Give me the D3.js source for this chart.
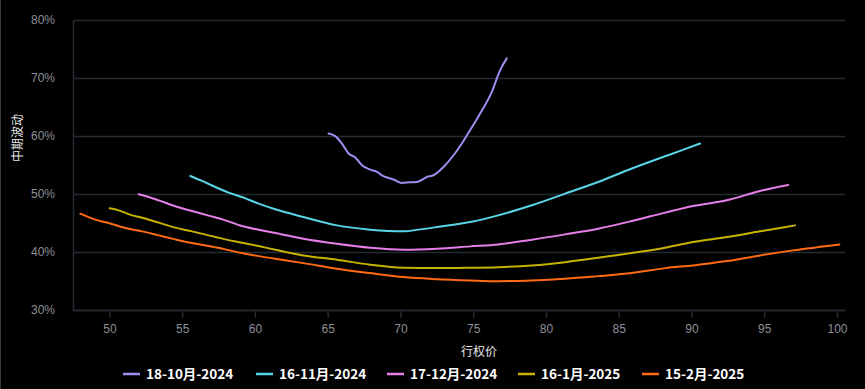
<!DOCTYPE html>
<head>
    <meta charset="utf-8">
    <title>中期波动 smile</title>
    <style>
        html, body { margin: 0; padding: 0; background: #000; }
        svg { display: block; font-family: "Noto Sans CJK SC", "Noto Sans", sans-serif; }
    </style>
</head>
<body>
<svg width="865" height="389"></svg>
<script src="https://d3js.org/d3.v7.min.js"></script>
<script>

    // expiries (legend order)
    var expiries = ["18-10月-2024", "16-11月-2024", "17-12月-2024", "16-1月-2025", "15-2月-2025"];
    var colors   = ["#9d8ff0", "#58d6e8", "#e67fea", "#c8b200", "#ff6a12"];

    // strike / vol(%) pairs
    var oct24Strike = [65.06, 65.52, 65.98, 66.44, 66.90, 67.36, 67.93, 68.39, 68.73, 69.18, 69.53, 70.10, 70.67, 71.13, 71.82, 72.27, 72.96, 73.65, 74.22, 74.57, 75.48, 76.28, 76.85, 77.31];
    var oct24Vol    = [60.43, 59.97, 58.70, 56.98, 56.29, 54.96, 54.21, 53.80, 53.23, 52.76, 52.49, 51.90, 52.02, 52.07, 52.94, 53.23, 54.66, 56.68, 58.70, 60.14, 63.89, 67.62, 71.36, 73.38];

    var nov24Strike = [55.56, 56.37, 57.28, 58.19, 59.11, 60.25, 61.40, 63.34, 65.64, 67.93, 70.21, 71.36, 72.51, 74.79, 76.72, 79.03, 81.32, 83.59, 85.90, 88.19, 89.22, 90.59];
    var nov24Vol    = [53.11, 52.25, 51.21, 50.24, 49.48, 48.34, 47.36, 46.03, 44.59, 43.85, 43.56, 43.90, 44.30, 45.16, 46.32, 48.05, 50.07, 52.07, 54.39, 56.51, 57.43, 58.70];

    var dec24Strike = [52.01, 52.70, 53.39, 54.53, 55.68, 56.82, 57.97, 59.11, 60.25, 61.40, 63.34, 65.64, 67.93, 70.21, 72.51, 74.79, 76.72, 79.03, 81.32, 83.59, 85.90, 88.19, 90.11, 92.42, 94.71, 96.65];
    var dec24Vol    = [49.95, 49.48, 48.91, 47.88, 47.06, 46.27, 45.46, 44.47, 43.85, 43.26, 42.30, 41.43, 40.74, 40.40, 40.57, 40.97, 41.31, 42.12, 43.04, 44.02, 45.34, 46.79, 47.93, 48.91, 50.52, 51.55];

    var jan25Strike = [50.02, 50.64, 51.56, 52.25, 53.39, 54.53, 55.68, 56.82, 57.97, 59.11, 60.25, 61.40, 63.34, 65.64, 67.93, 70.21, 72.51, 74.79, 76.72, 79.03, 81.32, 83.59, 85.90, 88.19, 90.11, 92.42, 94.71, 97.12];
    var jan25Vol    = [47.53, 47.18, 46.32, 45.92, 45.06, 44.20, 43.56, 42.87, 42.18, 41.61, 41.02, 40.40, 39.41, 38.67, 37.81, 37.29, 37.22, 37.29, 37.39, 37.69, 38.25, 39.01, 39.81, 40.74, 41.71, 42.57, 43.56, 44.59];

    var feb25Strike = [48.01, 49.04, 49.95, 51.10, 52.25, 53.39, 54.53, 55.68, 56.82, 57.97, 59.11, 60.25, 61.40, 63.34, 65.64, 67.93, 70.21, 72.51, 74.79, 76.72, 79.03, 81.32, 83.59, 85.90, 88.19, 90.11, 92.42, 94.71, 96.98, 100.16];
    var feb25Vol    = [46.61, 45.58, 45.00, 44.13, 43.56, 42.87, 42.18, 41.54, 41.02, 40.45, 39.81, 39.29, 38.84, 38.08, 37.12, 36.36, 35.67, 35.32, 35.10, 34.97, 35.10, 35.39, 35.84, 36.36, 37.22, 37.69, 38.43, 39.41, 40.28, 41.31];

    var xTicks = [50, 55, 60, 65, 70, 75, 80, 85, 90, 95, 100];
    var yTicks = [30, 40, 50, 60, 70, 80];

    var strikes = [oct24Strike, nov24Strike, dec24Strike, jan25Strike, feb25Strike];
    var vols    = [oct24Vol, nov24Vol, dec24Vol, jan25Vol, feb25Vol];

    var series = expiries.map((name, i) => ({
        name: name,
        color: colors[i],
        values: strikes[i].map((s, j) => ({ x: s, y: vols[i][j] }))
    }));

    //svg setting
    var svg = d3.select("svg"),
        margin = { left: 73, right: 20, top: 20, bottom: 79 },
        width = +svg.attr("width"),
        height = +svg.attr("height");

    var gridColor = "#252a33",
        tickColor = "#8c8f97";

    var x = d3.scaleLinear()
        .domain([47.5, 100.55])
        .range([margin.left, width - margin.right]);
    var y = d3.scaleLinear()
        .domain([30, 80])
        .range([height - margin.bottom, margin.top]);

    // thin frame on the left of the picture
    svg.append("line")
        .attr("x1", 0.5).attr("x2", 0.5)
        .attr("y1", 0).attr("y2", height)
        .attr("stroke", "#3a3a3a");

    //grid
    svg.append("g")
        .selectAll("line")
        .data(yTicks)
        .enter().append("line")
            .attr("x1", margin.left)
            .attr("x2", width - margin.right)
            .attr("y1", d => Math.round(y(d)) + 0.5)
            .attr("y2", d => Math.round(y(d)) + 0.5)
            .attr("stroke", gridColor)
            .attr("stroke-width", 1.5);

    //y axis
    var yAxis = svg.append("g")
        .attr("transform", "translate(" + margin.left + ",0)")
        .call(d3.axisLeft(y).tickValues(yTicks).tickSize(0).tickPadding(18).tickFormat(d => d + "%"));
    yAxis.select(".domain").attr("stroke", gridColor).attr("stroke-width", 1.5);
    yAxis.selectAll("text").attr("fill", tickColor).attr("font-size", 12);

    //x axis
    var xAxis = svg.append("g")
        .attr("transform", "translate(0," + (height - margin.bottom) + ")")
        .call(d3.axisBottom(x).tickValues(xTicks).tickSizeInner(8).tickSizeOuter(0).tickPadding(6));
    xAxis.select(".domain").attr("stroke", gridColor).attr("stroke-width", 1.5);
    xAxis.selectAll(".tick line").attr("stroke", gridColor).attr("stroke-width", 1.5);
    xAxis.selectAll("text").attr("fill", tickColor).attr("font-size", 12);

    //axis titles
    svg.append("text")
        .attr("x", 479)
        .attr("y", 356)
        .attr("text-anchor", "middle")
        .attr("fill", "#e8e8e8")
        .attr("font-size", 12)
        .text("行权价");

    svg.append("text")
        .attr("transform", "translate(22,138) rotate(-90)")
        .attr("text-anchor", "middle")
        .attr("fill", "#e8e8e8")
        .attr("font-size", 12)
        .text("中期波动");

    //curves
    var line = d3.line()
        .x(d => x(d.x))
        .y(d => y(d.y))
        .curve(d3.curveMonotoneX);

    svg.append("g")
        .selectAll("path")
        .data(series)
        .enter().append("path")
            .attr("fill", "none")
            .attr("stroke", d => d.color)
            .attr("stroke-width", 2)
            .attr("stroke-linejoin", "round")
            .attr("stroke-linecap", "round")
            .attr("d", d => line(d.values));

    //legend
    var legendX = [123, 256, 387, 518, 642];
    var legend = svg.append("g")
        .selectAll("g")
        .data(series)
        .enter().append("g")
            .attr("transform", (d, i) => "translate(" + legendX[i] + ",374)");
    legend.append("line")
        .attr("x1", 0).attr("x2", 17)
        .attr("stroke", d => d.color)
        .attr("stroke-width", 2.5);
    legend.append("text")
        .attr("x", 23)
        .attr("dy", "0.35em")
        .attr("fill", "#ffffff")
        .attr("font-size", 13.5)
        .attr("font-weight", "bold")
        .text(d => d.name);

</script>
</body>
